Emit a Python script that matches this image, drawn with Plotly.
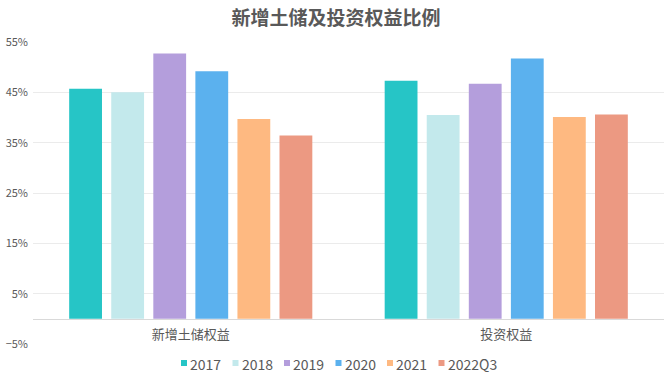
import plotly.graph_objects as go

categories = ["新增土储权益", "投资权益"]
series_names = ["2017", "2018", "2019", "2020", "2021", "2022Q3"]
v2017 = [45.7, 47.3]
v2018 = [45.0, 40.5]
v2019 = [52.7, 46.7]
v2020 = [49.2, 51.7]
v2021 = [39.7, 40.1]
v2022q3 = [36.4, 40.6]
series_values = [v2017, v2018, v2019, v2020, v2021, v2022q3]
colors = ["#26C5C6", "#C3E9EC", "#B49EDC", "#5BB1EE", "#FEB981", "#EC9982"]
y_ticks = [-5, 5, 15, 25, 35, 45, 55]
y_tick_labels = ["−5%", "5%", "15%", "25%", "35%", "45%", "55%"]

W, H = 672, 378
ML, MR, MT, MB = 33, 8, 42, 34
font = "Noto Sans CJK SC, Noto Sans, sans-serif"

fig = go.Figure()
for name, vals, c in zip(series_names, series_values, colors):
    fig.add_trace(go.Bar(x=categories, y=vals, name=name, marker_color=c,
                         marker_line_width=0, hoverinfo="y+name"))

ymin, ymax = -5, 55

# custom legend (compact, like the reference): small square + label
pw, ph = W - ML - MR, H - MT - MB
def px_x(px):
    return (px - ML) / pw
def px_y(py):
    return (H - MB - py) / ph

shapes, annotations = [], []
x = 181.0
ly = 363.0
for name, c in zip(series_names, colors):
    shapes.append(dict(type="rect", xref="paper", yref="paper",
                       x0=px_x(x), x1=px_x(x + 6), y0=px_y(ly + 3), y1=px_y(ly - 3),
                       fillcolor=c, line=dict(width=0)))
    tx = x + 7
    annotations.append(dict(text=name, xref="paper", yref="paper", x=px_x(tx), y=px_y(ly + 1),
                            xanchor="left", yanchor="middle", showarrow=False,
                            font=dict(family=font, size=14, color="#595959")))
    tw = sum(8.0 if ch.isdigit() else 11 for ch in name)
    x = tx + tw + 12.5

fig.update_layout(
    width=W, height=H,
    margin=dict(l=ML, r=MR, t=MT, b=MB, autoexpand=False),
    paper_bgcolor="white", plot_bgcolor="white",
    barmode="group", bargap=0.2, bargroupgap=0.22,
    title=dict(text="<b>新增土储及投资权益比例</b>", x=0.5, xanchor="center",
               y=1 - 18 / H, yanchor="middle",
               font=dict(family=font, size=19, color="#595959")),
    font=dict(family=font, color="#595959"),
    showlegend=False,
    shapes=shapes,
    annotations=annotations,
    xaxis=dict(anchor="free", position=(0 - ymin) / (ymax - ymin),
               showline=True, linecolor="#D9D9D9", linewidth=1, automargin=False,
               ticks="", ticklabelstandoff=4,
               tickfont=dict(family=font, size=13, color="#595959"),
               showgrid=False),
    yaxis=dict(range=[ymin, ymax], tickvals=y_ticks, ticktext=y_tick_labels,
               showgrid=True, gridcolor="#EBEBEB", gridwidth=1, automargin=False,
               zeroline=False, showline=False, ticks="", ticklabelstandoff=4,
               tickfont=dict(family=font, size=11, color="#595959")),
)
fig.write_html("out.html", config={"displayModeBar": False},
               post_script="document.body.style.margin='0';")
